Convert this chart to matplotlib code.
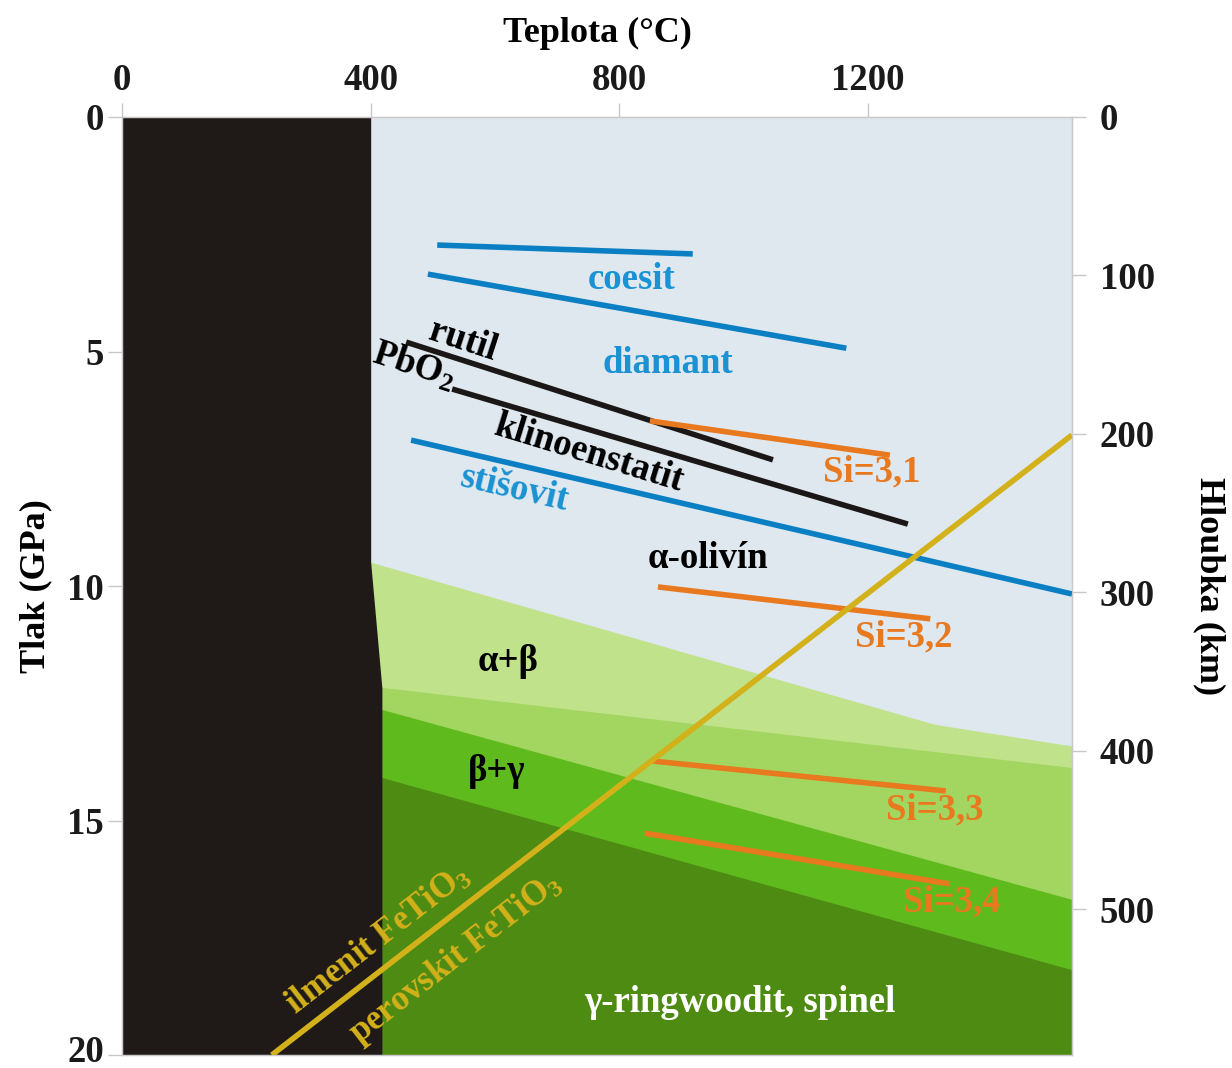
import matplotlib
matplotlib.use("Agg")
import matplotlib.pyplot as plt
import matplotlib.transforms as mtransforms

plt.rcParams['font.family'] = ['Liberation Serif', 'DejaVu Serif']
plt.rcParams['font.weight'] = 'bold'
plt.rcParams['mathtext.fontset'] = 'custom'
plt.rcParams['mathtext.rm'] = 'Liberation Serif:bold'
plt.rcParams['mathtext.it'] = 'Liberation Serif:bold:italic'
plt.rcParams['mathtext.bf'] = 'Liberation Serif:bold'

# ---------------- data ----------------
temp_ticks = [0, 400, 800, 1200]
pressure_ticks = [0, 5, 10, 15, 20]
depth_ticks = [0, 100, 200, 300, 400, 500]
T_MAX = 1528
P_MAX = 20
DEPTH_MAX = 592  # km at 20 GPa

# black (cold) region boundary
black_T = [400, 400, 418, 418]
black_P = [0, 9.5, 12.17, 20]

# phase field upper boundaries
alpha_top_T = [400, 1308, 1528]
alpha_top_P = [9.5, 12.96, 13.42]
ab_low_T = [418, 1528]
ab_low_P = [12.17, 13.88]
bg_top_T = [418, 1528]
bg_top_P = [12.64, 16.69]
g_top_T = [418, 1528]
g_top_P = [14.09, 18.19]

# reaction lines
coesit_T = [507, 918]
coesit_P = [2.73, 2.92]
diamant_T = [492, 1165]
diamant_P = [3.35, 4.93]
rutil_T = [457, 1047]
rutil_P = [4.80, 7.31]
pbo2_T = [531, 1264]
pbo2_P = [5.80, 8.68]
stisovit_T = [465, 1528]
stisovit_P = [6.89, 10.17]
si31_T = [849, 1235]
si31_P = [6.48, 7.21]
si32_T = [862, 1300]
si32_P = [10.02, 10.70]
si33_T = [852, 1325]
si33_P = [13.73, 14.37]
si34_T = [841, 1330]
si34_P = [15.27, 16.35]
fetio3_T = [241, 1528]
fetio3_P = [20.0, 6.78]

# ---------------- colors ----------------
c_bg = '#dfe8ee'
c_black = '#1f1a17'
c_lg = '#c0e28b'
c_mg = '#a3d660'
c_bg2 = '#5fbb1d'
c_dg = '#4e8b12'
c_blue = '#0b7fc3'
c_tblue = '#1b92d3'
c_orange = '#e8791f'
c_yellow = '#d3b11b'
c_line = '#1a1716'

fig = plt.figure(figsize=(12.32, 10.68), dpi=100)
ax = fig.add_axes([122/1232, 1-1055/1068, (1072-122)/1232, (1055-117)/1068])
ax.set_xlim(0, T_MAX)
ax.set_ylim(P_MAX, 0)
ax.set_facecolor(c_bg)

def field(bt, bp, color):
    xs = list(bt) + [T_MAX, bt[0]]
    ys = list(bp) + [P_MAX, P_MAX]
    ax.fill(xs, ys, color=color, lw=0, zorder=1)

field(alpha_top_T, alpha_top_P, c_lg)
field(ab_low_T, ab_low_P, c_mg)
field(bg_top_T, bg_top_P, c_bg2)
field(g_top_T, g_top_P, c_dg)

ax.fill_betweenx(black_P, 0, black_T, color=c_black, lw=0, zorder=2)

lw = 4
for t, p, c in [(coesit_T, coesit_P, c_blue), (diamant_T, diamant_P, c_blue),
                (rutil_T, rutil_P, c_line), (pbo2_T, pbo2_P, c_line),
                (stisovit_T, stisovit_P, c_blue),
                (si31_T, si31_P, c_orange), (si32_T, si32_P, c_orange),
                (si33_T, si33_P, c_orange), (si34_T, si34_P, c_orange),
                (fetio3_T, fetio3_P, c_yellow)]:
    ax.plot(t, p, color=c, lw=lw, solid_capstyle='butt', zorder=4, clip_on=True)

fs = 26.5
def lab(x, y, s, color, rot=0, size=fs):
    ax.text(x, y, s, color=color, rotation=rot, fontsize=size, fontweight='bold',
            ha='center', va='center', zorder=5, rotation_mode='anchor')

lab(819, 3.47, 'coesit', c_tblue)
lab(878, 5.26, 'diamant', c_tblue)
lab(548, 4.76, 'rutil', 'black', rot=-18)
lab(470, 5.30, 'PbO$_2$', 'black', rot=-18)
lab(750, 7.18, 'klinoenstatit', 'black', rot=-17)
lab(631, 7.94, 'stišovit', c_tblue, rot=-13)
lab(1206, 7.57, 'Si=3,1', c_orange)
lab(943, 9.42, 'α-olivín', 'black')
lab(1257, 11.08, 'Si=3,2', c_orange)
lab(621, 11.62, 'α+β', 'black')
lab(603, 13.96, 'β+γ', 'black')
lab(1308, 14.77, 'Si=3,3', c_orange)
lab(1335, 16.74, 'Si=3,4', c_orange)
lab(412, 17.55, 'ilmenit FeTiO$_3$', c_yellow, rot=37.8, size=25)
lab(537, 17.95, 'perovskit FeTiO$_3$', c_yellow, rot=37.8, size=25)
lab(994, 18.87, 'γ-ringwoodit, spinel', 'white')

# axes styling
spine_c = '#c8c8c8'
for s in ax.spines.values():
    s.set_color(spine_c)
    s.set_linewidth(1)
ax.xaxis.tick_top()
ax.xaxis.set_label_position('top')
ax.set_xticks(temp_ticks)
ax.set_yticks(pressure_ticks)
ax.tick_params(axis='both', colors=spine_c, labelcolor='#1a1a1a', labelsize=26.5,
               length=10, width=1)
ax.tick_params(axis='x', pad=4)
ax.tick_params(axis='y', pad=3)
ax.set_xlabel('Teplota (°C)', fontsize=26, fontweight='bold', labelpad=15)
ax.set_ylabel('Tlak (GPa)', fontsize=26, fontweight='bold', labelpad=11)

# keep the bottom "20" inside the figure
fig.canvas.draw()
for tl in ax.get_yticklabels():
    if tl.get_text() == '20':
        tl.set_transform(tl.get_transform() +
                         mtransforms.ScaledTranslation(0, 5/72, fig.dpi_scale_trans))

ax2 = ax.twinx()
ax2.set_ylim(DEPTH_MAX, 0)
ax2.set_yticks(depth_ticks)
ax2.tick_params(axis='y', colors=spine_c, labelcolor='#1a1a1a', labelsize=26.5,
                length=10, width=1, pad=10)
for s in ax2.spines.values():
    s.set_color(spine_c)
ax2.set_ylabel('Hloubka (km)', fontsize=26, fontweight='bold', rotation=-90,
               labelpad=51)

fig.savefig('out.png', dpi=100)
